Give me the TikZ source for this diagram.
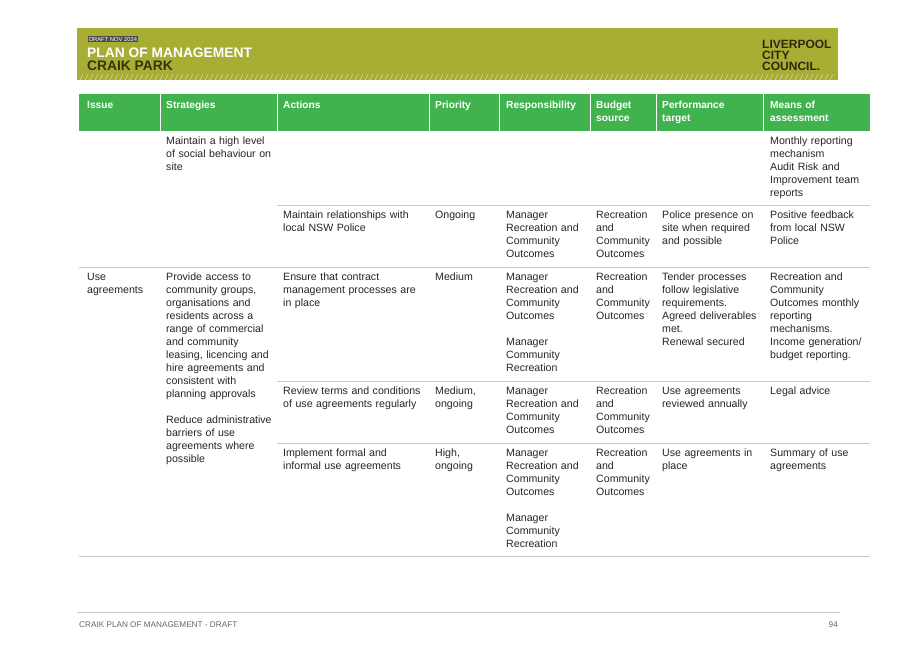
\documentclass[tikz,border=0pt]{standalone}
\usepackage{fontspec}
\setmainfont{Liberation Sans}
\usetikzlibrary{positioning}
\definecolor{olive}{HTML}{A8AD34}
\definecolor{tgreen}{HTML}{40B34F}
\definecolor{rulegray}{HTML}{C8C8C8}
\begin{document}
\begin{tikzpicture}[x=1pt,y=-1pt,
    cell/.style={anchor=north west, inner sep=0pt, align=left, text width=140pt, font=\fontsize{10.6}{13}\selectfont, text=black!85, execute at begin node=\strut},
    head/.style={cell, text=white, font=\fontsize{10.2}{13}\selectfont\bfseries},
    rowline/.style={draw=rulegray, line width=0.6pt}
]
\useasboundingbox[fill=white] (0,0) rectangle (917,648);
% Banner
\fill[olive] (77,28) rectangle (838,80);
\foreach \i in {0,...,150} \draw[white!70!olive, line width=0.4pt] (80+5*\i,80) -- (83+5*\i,74);
\node[fill=black!70, text=white, inner sep=0.8pt, font=\fontsize{5.8}{6}\selectfont, anchor=north west] (draft) at (88,36) {DRAFT NOV 2024};
\node[anchor=north west, inner sep=0pt, text=white, font=\fontsize{13.8}{13}\selectfont\bfseries] (plan) at (87,48) {PLAN OF MANAGEMENT};
\node[anchor=north west, inner sep=0pt, text=black!70!olive, font=\fontsize{13.8}{13}\selectfont\bfseries] (park) at (87,61) {CRAIK PARK};
\node[anchor=north west, inner sep=0pt, align=left, text=black!75!olive, font=\fontsize{12}{11}\selectfont\bfseries] (logo) at (762,40) {LIVERPOOL\\CITY\\COUNCIL.};
% Table head
\fill[tgreen] (79,94) rectangle (870,131);
\foreach \x in {160,277,429,499,590,656,763} \draw[white, line width=0.8pt] (\x,94) -- (\x,131);
\node[head] (hIssue) at (87,99) {Issue};
\node[head] (hStrat) at (166,99) {Strategies};
\node[head] (hAct) at (283,99) {Actions};
\node[head] (hPrio) at (435,99) {Priority};
\node[head] (hResp) at (506,99) {Responsibility};
\node[head] (hBudget) at (596,99) {Budget\\source};
\node[head] (hPerf) at (662,99) {Performance\\target};
\node[head] (hMeans) at (770,99) {Means of\\assessment};
% Rows
\node[cell] (s1) at (166,135) {Maintain a high level\\of social behaviour on\\site};
\node[cell] (m1) at (770,135) {Monthly reporting\\mechanism\\Audit Risk and\\Improvement team\\reports};
\draw[rowline] (277,205) -- (870,205);
\node[cell] (a2) at (283,209) {Maintain relationships with\\local NSW Police};
\node[cell] (p2) at (435,209) {Ongoing};
\node[cell] (r2) at (506,209) {Manager\\Recreation and\\Community\\Outcomes};
\node[cell] (b2) at (596,209) {Recreation\\and\\Community\\Outcomes};
\node[cell] (t2) at (662,209) {Police presence on\\site when required\\and possible};
\node[cell] (m2) at (770,209) {Positive feedback\\from local NSW\\Police};
\draw[rowline] (79,267) -- (870,267);
\node[cell] (i3) at (87,271) {Use\\agreements};
\node[cell] (s3) at (166,271) {Provide access to\\community groups,\\organisations and\\residents across a\\range of commercial\\and community\\leasing, licencing and\\hire agreements and\\consistent with\\planning approvals\\[13pt]Reduce administrative\\barriers of use\\agreements where\\possible};
\node[cell] (a3) at (283,271) {Ensure that contract\\management processes are\\in place};
\node[cell] (p3) at (435,271) {Medium};
\node[cell] (r3) at (506,271) {Manager\\Recreation and\\Community\\Outcomes\\[13pt]Manager\\Community\\Recreation};
\node[cell] (b3) at (596,271) {Recreation\\and\\Community\\Outcomes};
\node[cell] (t3) at (662,271) {Tender processes\\follow legislative\\requirements.\\Agreed deliverables\\met.\\Renewal secured};
\node[cell] (m3) at (770,271) {Recreation and\\Community\\Outcomes monthly\\reporting\\mechanisms.\\Income generation/\\budget reporting.};
\draw[rowline] (277,381) -- (870,381);
\node[cell] (a4) at (283,385) {Review terms and conditions\\of use agreements regularly};
\node[cell] (p4) at (435,385) {Medium,\\ongoing};
\node[cell] (r4) at (506,385) {Manager\\Recreation and\\Community\\Outcomes};
\node[cell] (b4) at (596,385) {Recreation\\and\\Community\\Outcomes};
\node[cell] (t4) at (662,385) {Use agreements\\reviewed annually};
\node[cell] (m4) at (770,385) {Legal advice};
\draw[rowline] (277,443) -- (870,443);
\node[cell] (a5) at (283,447) {Implement formal and\\informal use agreements};
\node[cell] (p5) at (435,447) {High,\\ongoing};
\node[cell] (r5) at (506,447) {Manager\\Recreation and\\Community\\Outcomes\\[13pt]Manager\\Community\\Recreation};
\node[cell] (b5) at (596,447) {Recreation\\and\\Community\\Outcomes};
\node[cell] (t5) at (662,447) {Use agreements in\\place};
\node[cell] (m5) at (770,447) {Summary of use\\agreements};
\draw[rowline] (79,556) -- (870,556);
% Footer
\node[anchor=west, inner sep=0pt, text=black!60, font=\fontsize{8.2}{9}\selectfont] (foot) at (79,625) {CRAIK PLAN OF MANAGEMENT - DRAFT};
\node[anchor=east, inner sep=0pt, text=black!60, font=\fontsize{8.2}{9}\selectfont] (page) at (838,625) {94};
\draw[rowline] (77,612) -- (840,612);
\end{tikzpicture}
\end{document}
